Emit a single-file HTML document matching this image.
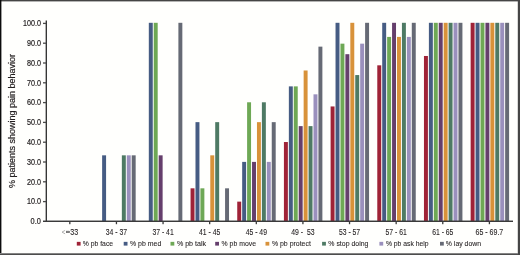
<!DOCTYPE html><html><head><meta charset="utf-8"><style>html,body{margin:0;padding:0;background:#fff;width:520px;height:255px;overflow:hidden}svg{display:block;font-family:"Liberation Sans",sans-serif}</style></head><body><svg width="520" height="255" viewBox="0 0 520 255"><rect x="0" y="0" width="520" height="255" fill="#fffffd"/><rect x="102.13" y="155.33" width="3.95" height="65.67" fill="#465c83"/><rect x="121.85" y="155.33" width="3.95" height="65.67" fill="#4e7a64"/><rect x="126.78" y="155.33" width="3.95" height="65.67" fill="#9a90bd"/><rect x="131.71" y="155.33" width="3.95" height="65.67" fill="#666a75"/><rect x="148.81" y="22.80" width="3.95" height="198.20" fill="#465c83"/><rect x="153.74" y="22.80" width="3.95" height="198.20" fill="#6ea855"/><rect x="158.67" y="155.33" width="3.95" height="65.67" fill="#653f6c"/><rect x="178.39" y="22.80" width="3.95" height="198.20" fill="#666a75"/><rect x="190.56" y="188.32" width="3.95" height="32.68" fill="#9f2337"/><rect x="195.49" y="122.15" width="3.95" height="98.85" fill="#465c83"/><rect x="200.42" y="188.32" width="3.95" height="32.68" fill="#6ea855"/><rect x="210.28" y="155.33" width="3.95" height="65.67" fill="#d8923a"/><rect x="215.21" y="122.15" width="3.95" height="98.85" fill="#4e7a64"/><rect x="225.07" y="188.32" width="3.95" height="32.68" fill="#666a75"/><rect x="237.24" y="201.63" width="3.95" height="19.37" fill="#9f2337"/><rect x="242.17" y="161.89" width="3.95" height="59.11" fill="#465c83"/><rect x="247.10" y="102.28" width="3.95" height="118.72" fill="#6ea855"/><rect x="252.03" y="161.89" width="3.95" height="59.11" fill="#653f6c"/><rect x="256.96" y="122.15" width="3.95" height="98.85" fill="#d8923a"/><rect x="261.89" y="102.28" width="3.95" height="118.72" fill="#4e7a64"/><rect x="266.82" y="161.89" width="3.95" height="59.11" fill="#9a90bd"/><rect x="271.75" y="122.15" width="3.95" height="98.85" fill="#666a75"/><rect x="283.92" y="142.02" width="3.95" height="78.98" fill="#9f2337"/><rect x="288.85" y="86.38" width="3.95" height="134.62" fill="#465c83"/><rect x="293.78" y="86.38" width="3.95" height="134.62" fill="#6ea855"/><rect x="298.71" y="126.12" width="3.95" height="94.88" fill="#653f6c"/><rect x="303.64" y="70.49" width="3.95" height="150.51" fill="#d8923a"/><rect x="308.57" y="126.12" width="3.95" height="94.88" fill="#4e7a64"/><rect x="313.50" y="94.33" width="3.95" height="126.67" fill="#9a90bd"/><rect x="318.43" y="46.64" width="3.95" height="174.36" fill="#666a75"/><rect x="330.60" y="106.45" width="3.95" height="114.55" fill="#9f2337"/><rect x="335.53" y="22.80" width="3.95" height="198.20" fill="#465c83"/><rect x="340.46" y="43.66" width="3.95" height="177.34" fill="#6ea855"/><rect x="345.39" y="54.19" width="3.95" height="166.81" fill="#653f6c"/><rect x="350.32" y="22.80" width="3.95" height="198.20" fill="#d8923a"/><rect x="355.25" y="75.06" width="3.95" height="145.94" fill="#4e7a64"/><rect x="360.18" y="43.66" width="3.95" height="177.34" fill="#9a90bd"/><rect x="365.11" y="22.80" width="3.95" height="198.20" fill="#666a75"/><rect x="377.28" y="65.32" width="3.95" height="155.68" fill="#9f2337"/><rect x="382.21" y="22.80" width="3.95" height="198.20" fill="#465c83"/><rect x="387.14" y="36.91" width="3.95" height="184.09" fill="#6ea855"/><rect x="392.07" y="22.80" width="3.95" height="198.20" fill="#653f6c"/><rect x="397.00" y="36.91" width="3.95" height="184.09" fill="#d8923a"/><rect x="401.93" y="22.80" width="3.95" height="198.20" fill="#4e7a64"/><rect x="406.86" y="36.91" width="3.95" height="184.09" fill="#9a90bd"/><rect x="411.79" y="22.80" width="3.95" height="198.20" fill="#666a75"/><rect x="423.96" y="55.98" width="3.95" height="165.02" fill="#9f2337"/><rect x="428.89" y="22.80" width="3.95" height="198.20" fill="#465c83"/><rect x="433.82" y="22.80" width="3.95" height="198.20" fill="#6ea855"/><rect x="438.75" y="22.80" width="3.95" height="198.20" fill="#653f6c"/><rect x="443.68" y="22.80" width="3.95" height="198.20" fill="#d8923a"/><rect x="448.61" y="22.80" width="3.95" height="198.20" fill="#4e7a64"/><rect x="453.54" y="22.80" width="3.95" height="198.20" fill="#9a90bd"/><rect x="458.47" y="22.80" width="3.95" height="198.20" fill="#666a75"/><rect x="470.64" y="22.80" width="3.95" height="198.20" fill="#9f2337"/><rect x="475.57" y="22.80" width="3.95" height="198.20" fill="#465c83"/><rect x="480.50" y="22.80" width="3.95" height="198.20" fill="#6ea855"/><rect x="485.43" y="22.80" width="3.95" height="198.20" fill="#653f6c"/><rect x="490.36" y="22.80" width="3.95" height="198.20" fill="#d8923a"/><rect x="495.29" y="22.80" width="3.95" height="198.20" fill="#4e7a64"/><rect x="500.22" y="22.80" width="3.95" height="198.20" fill="#9a90bd"/><rect x="505.15" y="22.80" width="3.95" height="198.20" fill="#666a75"/><rect x="45.62" y="20.5" width="1.38" height="201.5" fill="#363636"/><rect x="43" y="220.55" width="470" height="1.45" fill="#3a3a3a"/><rect x="43" y="200.95" width="3" height="1.3" fill="#4a4a4a"/><rect x="43" y="181.15" width="3" height="1.3" fill="#4a4a4a"/><rect x="43" y="161.35" width="3" height="1.3" fill="#4a4a4a"/><rect x="43" y="141.55" width="3" height="1.3" fill="#4a4a4a"/><rect x="43" y="121.75" width="3" height="1.3" fill="#4a4a4a"/><rect x="43" y="101.95" width="3" height="1.3" fill="#4a4a4a"/><rect x="43" y="82.15" width="3" height="1.3" fill="#4a4a4a"/><rect x="43" y="62.35" width="3" height="1.3" fill="#4a4a4a"/><rect x="43" y="42.55" width="3" height="1.3" fill="#4a4a4a"/><rect x="43" y="22.75" width="3" height="1.3" fill="#4a4a4a"/><rect x="69.17" y="221.5" width="1.3" height="2.7" fill="#3a3a3a"/><rect x="115.79" y="221.5" width="1.3" height="2.7" fill="#3a3a3a"/><rect x="162.41" y="221.5" width="1.3" height="2.7" fill="#3a3a3a"/><rect x="209.03" y="221.5" width="1.3" height="2.7" fill="#3a3a3a"/><rect x="255.65" y="221.5" width="1.3" height="2.7" fill="#3a3a3a"/><rect x="302.27" y="221.5" width="1.3" height="2.7" fill="#3a3a3a"/><rect x="348.89" y="221.5" width="1.3" height="2.7" fill="#3a3a3a"/><rect x="395.51" y="221.5" width="1.3" height="2.7" fill="#3a3a3a"/><rect x="442.13" y="221.5" width="1.3" height="2.7" fill="#3a3a3a"/><rect x="488.75" y="221.5" width="1.3" height="2.7" fill="#3a3a3a"/><defs><filter id="gf" x="0" y="0" width="1" height="1"><feOffset dx="0" dy="0"/></filter></defs><g filter="url(#gf)" fill="#231f20" stroke="#231f20" stroke-width="0.2"><g font-size="8.6"><text x="30.60" y="224.10" textLength="10.3" lengthAdjust="spacingAndGlyphs">0.0</text><text x="26.90" y="204.30" textLength="14.0" lengthAdjust="spacingAndGlyphs">10.0</text><text x="26.90" y="184.50" textLength="14.0" lengthAdjust="spacingAndGlyphs">20.0</text><text x="26.90" y="164.70" textLength="14.0" lengthAdjust="spacingAndGlyphs">30.0</text><text x="26.90" y="144.90" textLength="14.0" lengthAdjust="spacingAndGlyphs">40.0</text><text x="26.90" y="125.10" textLength="14.0" lengthAdjust="spacingAndGlyphs">50.0</text><text x="26.90" y="105.30" textLength="14.0" lengthAdjust="spacingAndGlyphs">60.0</text><text x="26.90" y="85.50" textLength="14.0" lengthAdjust="spacingAndGlyphs">70.0</text><text x="26.90" y="65.70" textLength="14.0" lengthAdjust="spacingAndGlyphs">80.0</text><text x="26.90" y="45.90" textLength="14.0" lengthAdjust="spacingAndGlyphs">90.0</text><text x="23.00" y="26.10" textLength="17.9" lengthAdjust="spacingAndGlyphs">100.0</text></g><g font-size="8.6" text-anchor="middle" stroke-width="0.1"><text x="74.3" y="234.7" textLength="7.9" lengthAdjust="spacingAndGlyphs">33</text><text x="116.44" y="234.7" textLength="21.3" lengthAdjust="spacingAndGlyphs">34&#160;-&#160;37</text><text x="163.06" y="234.7" textLength="21.3" lengthAdjust="spacingAndGlyphs">37&#160;-&#160;41</text><text x="209.68" y="234.7" textLength="21.3" lengthAdjust="spacingAndGlyphs">41&#160;-&#160;45</text><text x="256.30" y="234.7" textLength="21.3" lengthAdjust="spacingAndGlyphs">45&#160;-&#160;49</text><text x="302.92" y="234.7" textLength="23.3" lengthAdjust="spacingAndGlyphs">49&#160;-&#160;&#160;53</text><text x="349.54" y="234.7" textLength="21.3" lengthAdjust="spacingAndGlyphs">53&#160;-&#160;57</text><text x="396.16" y="234.7" textLength="21.3" lengthAdjust="spacingAndGlyphs">57&#160;-&#160;61</text><text x="442.78" y="234.7" textLength="21.3" lengthAdjust="spacingAndGlyphs">61&#160;-&#160;65</text><text x="489.40" y="234.7" textLength="27.7" lengthAdjust="spacingAndGlyphs">65&#160;-&#160;69.7</text></g><polyline points="65.1,230.4 62,232.1 65.1,233.8" fill="none" stroke="#9a9a9a" stroke-width="0.75"/><rect x="66.1" y="231.0" width="3.7" height="1.9" fill="#8c8c8c"/><text transform="translate(15,120.9) rotate(-90)" font-size="9" text-anchor="middle" textLength="134" lengthAdjust="spacingAndGlyphs">% patients showing pain behavior</text><g font-size="7.1" stroke-width="0.08"><text x="82.80" y="246.1" textLength="30.30" lengthAdjust="spacingAndGlyphs">% pb face</text><text x="130.00" y="246.1" textLength="31.30" lengthAdjust="spacingAndGlyphs">% pb med</text><text x="176.90" y="246.1" textLength="29.20" lengthAdjust="spacingAndGlyphs">% pb talk</text><text x="221.60" y="246.1" textLength="34.40" lengthAdjust="spacingAndGlyphs">% pb move</text><text x="271.90" y="246.1" textLength="39.00" lengthAdjust="spacingAndGlyphs">% pb protect</text><text x="328.30" y="246.1" textLength="40.10" lengthAdjust="spacingAndGlyphs">% stop doing</text><text x="385.90" y="246.1" textLength="42.70" lengthAdjust="spacingAndGlyphs">% pb ask help</text><text x="445.80" y="246.1" textLength="35.30" lengthAdjust="spacingAndGlyphs">% lay down</text></g></g><rect x="76.8" y="241.85" width="3.8" height="3.75" fill="#9f2337"/><rect x="123.7" y="241.85" width="3.8" height="3.75" fill="#465c83"/><rect x="170.5" y="241.85" width="3.8" height="3.75" fill="#6ea855"/><rect x="215.2" y="241.85" width="3.8" height="3.75" fill="#653f6c"/><rect x="265.5" y="241.85" width="3.8" height="3.75" fill="#d8923a"/><rect x="322.1" y="241.85" width="3.8" height="3.75" fill="#4e7a64"/><rect x="379.4" y="241.85" width="3.8" height="3.75" fill="#9a90bd"/><rect x="440" y="241.85" width="3.8" height="3.75" fill="#666a75"/><g fill="#454545"><rect x="0" y="0" width="520" height="1.4"/><rect x="0" y="0" width="1.4" height="255" fill="#0c0c0c"/><rect x="517.8" y="0" width="2.2" height="255"/><rect x="0" y="253" width="518" height="1" fill="#858585"/><rect x="0" y="254" width="518" height="1" fill="#4d4d4d"/></g></svg></body></html>
